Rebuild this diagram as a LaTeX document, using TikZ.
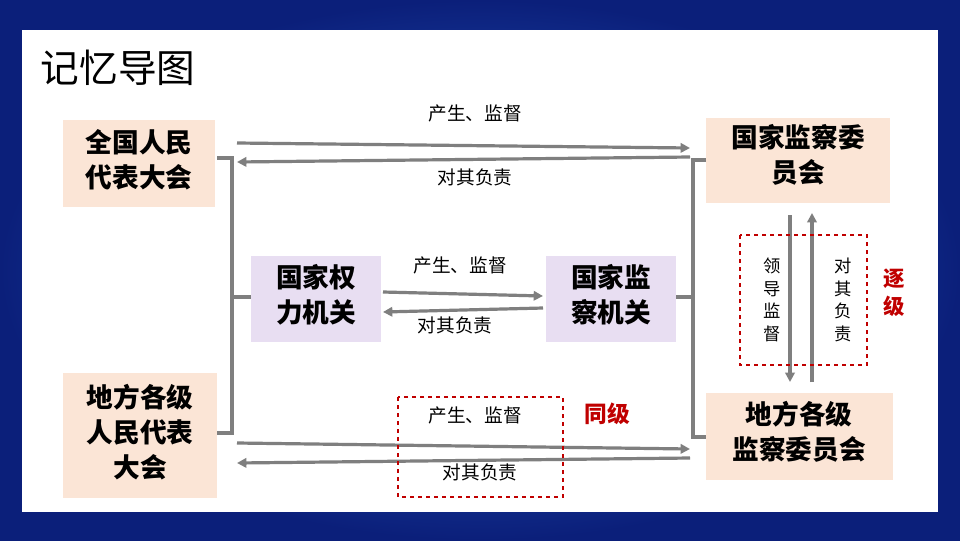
\documentclass[tikz,border=0pt]{standalone}
\usepackage{fontspec}
\newfontfamily\cjk{Noto Sans CJK SC}
\usetikzlibrary{arrows.meta}
\definecolor{peach}{HTML}{FBE5D6}
\definecolor{lav}{HTML}{E8DEF2}
\definecolor{arr}{HTML}{7F7F7F}
\definecolor{redd}{HTML}{C00000}
\definecolor{bgin}{HTML}{2E6BD8}
\definecolor{bgout}{HTML}{0B1F7A}
\tikzset{
 box/.style={inner sep=0pt,align=center,font=\cjk\bfseries\fontsize{20}{26}\selectfont},
 lbl/.style={font=\cjk\fontsize{14}{16}\selectfont},
 ar/.style={draw=arr,line width=2.4pt,-{Triangle[length=7pt,width=7pt]}},
 br/.style={draw=arr,line width=2.4pt},
 rd/.style={draw=redd,line width=1.5pt,dashed}
}
\begin{document}
\begin{tikzpicture}[x=0.75pt,y=-0.75pt]
\useasboundingbox (0,0) rectangle (960,540);
\shade[inner color=bgin,outer color=bgout] (0,0) rectangle (960,540);
\fill[white] (22,30) rectangle (938,512);
\node[anchor=west,font=\cjk\fontsize{29}{32}\selectfont] (title) at (36,68) {记忆导图};
% boxes
\fill[peach] (63,120) rectangle (215,207);
\node[box] (qr) at (139,160) {全国人民\\代表大会};
\fill[peach] (63,373) rectangle (217,498);
\node[box] (df) at (140,432) {地方各级\\人民代表\\大会};
\fill[lav] (251,256) rectangle (381,342);
\node[box] (ql) at (316,295) {国家权\\力机关};
\fill[lav] (546,256) rectangle (676,342);
\node[box] (jc) at (611,295) {国家监\\察机关};
\fill[peach] (706,118) rectangle (890,203);
\node[box] (gw) at (798,155) {国家监察委\\员会};
\fill[peach] (706,393) rectangle (893,480);
\node[box] (dw) at (799,432) {地方各级\\监察委员会};
% brackets
\draw[br] (217,158) -- (232,158) -- (232,433) -- (217,433);
\draw[br] (232,297) -- (251,297);
\draw[br] (706,160) -- (693,160) -- (693,437) -- (706,437);
\draw[br] (693,297) -- (676,297);
% arrows
\coordinate (a1) at (237,143); \coordinate (a2) at (690,148);
\coordinate (a3) at (690,157); \coordinate (a4) at (237,162);
\draw[ar] (a1) -- (a2); \draw[ar] (a3) -- (a4);
\node[lbl] (l1) at (475,113) {产生、监督};
\node[lbl] (l2) at (475,177) {对其负责};
\coordinate (b1) at (383,292); \coordinate (b2) at (543,296);
\coordinate (b3) at (543,308); \coordinate (b4) at (383,312);
\draw[ar] (b1) -- (b2); \draw[ar] (b3) -- (b4);
\node[lbl] (l3) at (460,265) {产生、监督};
\node[lbl] (l4) at (455,325) {对其负责};
\coordinate (c1) at (237,443); \coordinate (c2) at (690,449);
\coordinate (c3) at (690,458); \coordinate (c4) at (237,463);
\draw[ar] (c1) -- (c2); \draw[ar] (c3) -- (c4);
\node[lbl] (l5) at (475,415) {产生、监督};
\node[lbl] (l6) at (480,472) {对其负责};
\coordinate (d1) at (790,215); \coordinate (d2) at (790,382);
\coordinate (d3) at (812,382); \coordinate (d4) at (812,213);
\draw[ar] (d1) -- (d2); \draw[ar] (d3) -- (d4);
\node[lbl,align=center,font=\cjk\fontsize{13}{17}\selectfont] (l7) at (772,300) {领\\导\\监\\督};
\node[lbl,align=center,font=\cjk\fontsize{13}{17}\selectfont] (l8) at (843,300) {对\\其\\负\\责};
% red
\draw[rd] (740,235) rectangle (867,365);
\draw[rd] (398,397) rectangle (563,497);
\node[font=\cjk\bfseries\fontsize{17}{20}\selectfont,text=redd] (tj) at (607,414) {同级};
\node[font=\cjk\bfseries\fontsize{16}{21}\selectfont,text=redd,align=center] (zj) at (894,293) {逐\\级};
\end{tikzpicture}
\end{document}
